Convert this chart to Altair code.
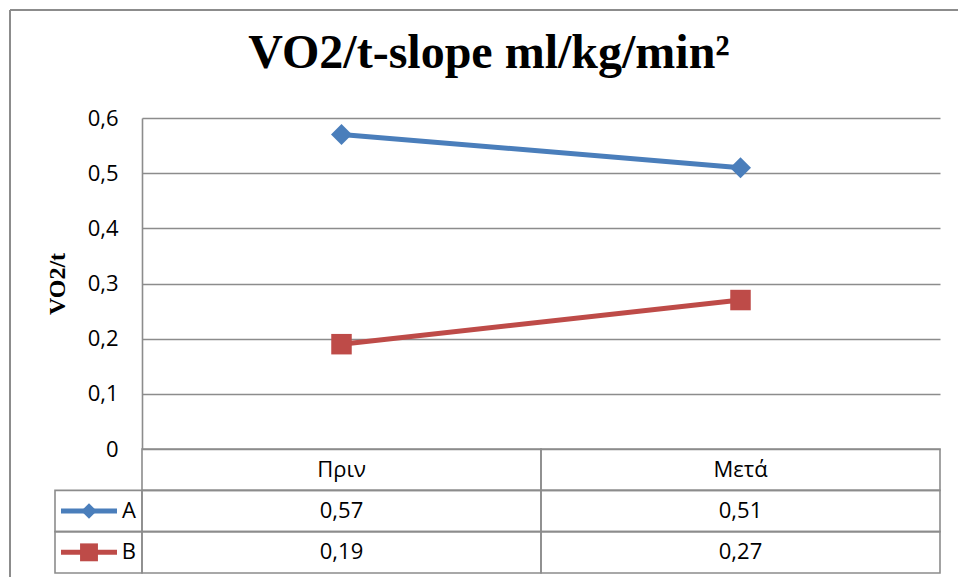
import altair as alt
import pandas as pd

# ---- data ----
categories = ["Πριν", "Μετά"]
series = ["A", "B"]
values_a = [0.57, 0.51]
values_b = [0.19, 0.27]
y_ticks = [0, 0.1, 0.2, 0.3, 0.4, 0.5, 0.6]
colors = ["#4A7EBB", "#BE4B48"]
shapes = ["diamond", "square"]
marker_sizes = [440, 420]
legend_marker_sizes = [240, 320]
title_text = "VO2/t-slope ml/kg/min²"
y_title = "VO2/t"
header_row = "header"

GRID = "#8c8c8c"

rows = []
for s, vals in zip(series, [values_a, values_b]):
    for c, v in zip(categories, vals):
        rows.append({"series": s, "category": c, "value": v,
                     "row": s, "label": f"{v:.2f}".replace(".", ",")})
df = pd.DataFrame(rows)

hdr = pd.DataFrame({"row": [header_row] * len(categories),
                    "category": categories, "label": categories})
table_df = pd.concat([hdr, df[["row", "category", "label"]]], ignore_index=True)
legend_df = pd.DataFrame({"row": series, "series": series})
frame_df = pd.DataFrame({"k": [0]})
table_rows = [header_row] + series

color_scale = alt.Scale(domain=series, range=colors)
shape_scale = alt.Scale(domain=series, range=shapes)
size_scale = alt.Scale(domain=series, range=marker_sizes)
legend_size_scale = alt.Scale(domain=series, range=legend_marker_sizes)

# ---- top: line chart ----
x_top = alt.X("category:N", sort=categories,
              scale=alt.Scale(type="point", padding=0.5), axis=None)
y_top = alt.Y("value:Q", scale=alt.Scale(domain=[0, 0.6]),
              axis=alt.Axis(values=y_ticks, format=".1~f",
                            labelExpr="replace(datum.label, '.', ',')",
                            domain=True, domainColor=GRID, domainWidth=1.6,
                            ticks=False, grid=True, gridColor=GRID, gridWidth=1.6,
                            labelFont="Open Sans", labelFontSize=22, labelColor="black",
                            labelPadding=24, title=y_title, titleFont="Liberation Serif",
                            titleFontWeight="bold", titleFontSize=24, titleColor="black",
                            titlePadding=18))

base = alt.Chart(df)
lines = base.mark_line(strokeWidth=5).encode(
    x=x_top, y=y_top,
    color=alt.Color("series:N", scale=color_scale, legend=None),
    detail="series:N")
points = base.mark_point(filled=True, opacity=1).encode(
    x=x_top, y=alt.Y("value:Q"),
    color=alt.Color("series:N", scale=color_scale, legend=None),
    shape=alt.Shape("series:N", scale=shape_scale, legend=None),
    size=alt.Size("series:N", scale=size_scale, legend=None))

top = alt.layer(lines, points).properties(
    width=798, height=331,
    title=alt.TitleParams(text=title_text, font="Liberation Serif", fontSize=48,
                          fontWeight="bold", color="black", anchor="middle",
                          frame="group", dx=-52, offset=-9, baseline="alphabetic"))

# ---- bottom: data table ----
x_tab = alt.X("category:N", sort=categories,
              scale=alt.Scale(type="band", paddingInner=0, paddingOuter=0), axis=None)
y_tab = alt.Y("row:N", sort=table_rows,
              scale=alt.Scale(domain=table_rows, paddingInner=0, paddingOuter=0), axis=None)
y_tab_c = alt.Y("row:N", sort=table_rows, bandPosition=0.5,
                scale=alt.Scale(domain=table_rows, paddingInner=0, paddingOuter=0), axis=None)

tbase = alt.Chart(table_df)
cells = tbase.mark_rect(fillOpacity=0, stroke=GRID, strokeWidth=1.6).encode(x=x_tab, y=y_tab)
cell_text = tbase.mark_text(font="Open Sans", fontSize=22, color="black").encode(
    x=x_tab, y=y_tab_c, text="label:N")

lbase = alt.Chart(legend_df)
legend_cells = lbase.mark_rect(fillOpacity=0, stroke=GRID, strokeWidth=1.6).encode(
    x=alt.value(-87), x2=alt.value(0), y=y_tab)
swatch = lbase.mark_rule(strokeWidth=5).encode(
    x=alt.value(-81), x2=alt.value(-25), y=y_tab_c,
    color=alt.Color("series:N", scale=color_scale, legend=None))
swatch_mark = lbase.mark_point(filled=True, opacity=1).encode(
    x=alt.value(-53), y=y_tab_c,
    color=alt.Color("series:N", scale=color_scale, legend=None),
    shape=alt.Shape("series:N", scale=shape_scale, legend=None),
    size=alt.Size("series:N", scale=legend_size_scale, legend=None))
legend_text = lbase.mark_text(font="Open Sans", fontSize=22, color="black", align="right").encode(
    x=alt.value(-6), y=y_tab_c, text="series:N")

# outer chart-area frame (left and top edges visible in the reference)
frame_left = alt.Chart(frame_df).mark_rule(color=GRID, strokeWidth=2).encode(
    x=alt.value(-132), y=alt.value(-439), y2=alt.value(128))
frame_top = alt.Chart(frame_df).mark_rule(color=GRID, strokeWidth=2).encode(
    x=alt.value(-132), x2=alt.value(816), y=alt.value(-439))

bottom = alt.layer(cells, cell_text, legend_cells, swatch, swatch_mark, legend_text,
                   frame_left, frame_top).properties(width=798, height=124)

chart = alt.vconcat(top, bottom, spacing=0, bounds="flush").resolve_scale(
    color="independent", shape="independent", size="independent").configure_view(
    stroke=None).properties(
    padding={"left": 9, "top": 9, "right": 0, "bottom": 0}, background="white")

chart.save("out.html", embed_options={"renderer": "svg", "actions": False})
